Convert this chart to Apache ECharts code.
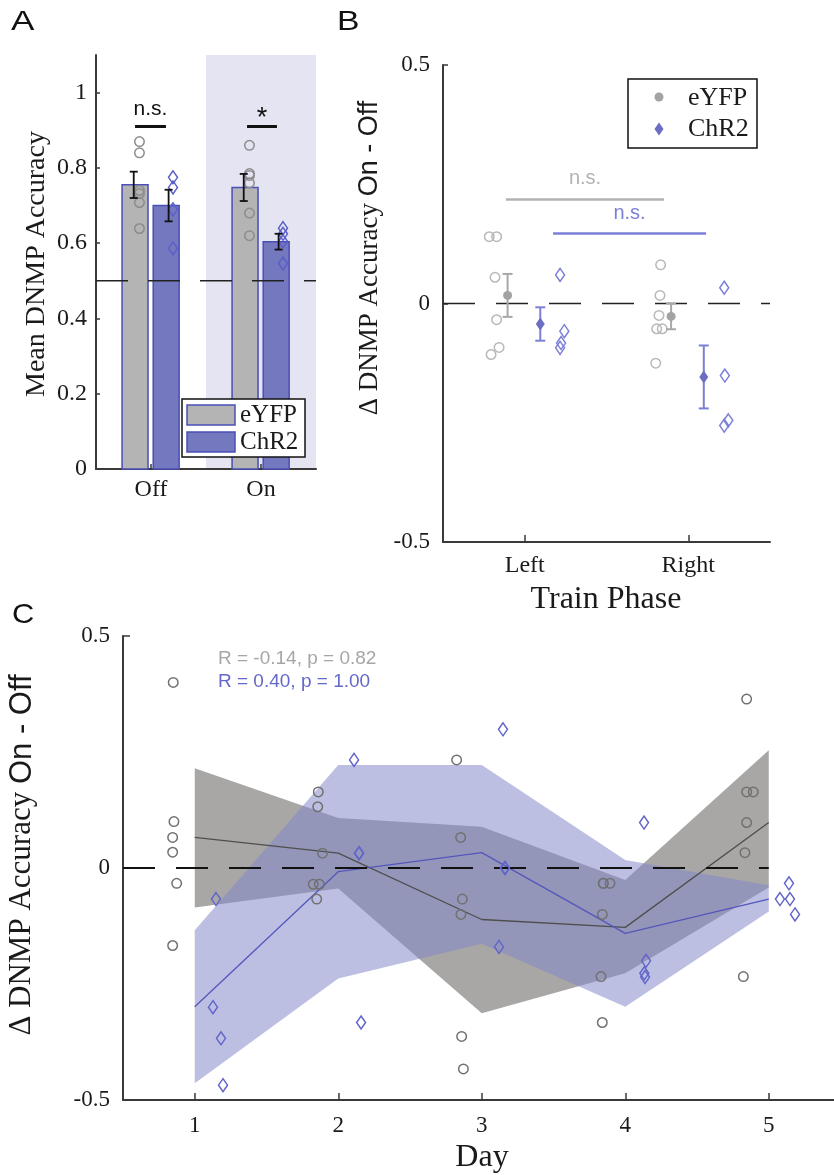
<!DOCTYPE html>
<html><head><meta charset="utf-8">
<script src="https://cdn.jsdelivr.net/npm/echarts@6/dist/echarts.min.js"></script>
<style>html,body{margin:0;padding:0;background:#fff}#c{width:834px;height:1175px}</style>
</head><body><div id="c"></div>
<script>
// ---------------- Panel A data ----------------
const aConditions = ['Off', 'On'];
const aEyfpMean = [0.755, 0.748];
const aEyfpErr = [0.035, 0.036];
const aChr2Mean = [0.700, 0.604];
const aChr2Err = [0.042, 0.021];
const aEyfpPoints = [[0.87, 0.84, 0.74, 0.732, 0.708, 0.639], [0.86, 0.785, 0.78, 0.76, 0.68, 0.62]];
const aChr2Points = [[0.775, 0.748, 0.69, 0.586], [0.64, 0.625, 0.605, 0.546]];
const aChance = 0.5;
const aYTicks = [0, 0.2, 0.4, 0.6, 0.8, 1];
const aSigText = ['n.s.', '*'];
const aSigY = [0.91, 0.91];

// ---------------- Panel B data ----------------
const bPhases = ['Left', 'Right'];
const bEyfpPoints = [[0.14, 0.14, 0.055, -0.034, -0.092, -0.107], [0.081, 0.017, -0.025, -0.053, -0.053, -0.125]];
const bEyfpJitter = [[-0.217, -0.172, -0.182, -0.172, -0.157, -0.206], [-0.169, -0.173, -0.179, -0.193, -0.159, -0.199]];
const bChr2Points = [[0.06, -0.058, -0.083, -0.093], [0.033, -0.151, -0.245, -0.256]];
const bChr2Jitter = [[0.216, 0.242, 0.222, 0.216], [0.22, 0.224, 0.245, 0.22]];
const bEyfpMean = [0.017, -0.027];
const bEyfpErr = [0.045, 0.027];
const bChr2Mean = [-0.043, -0.154];
const bChr2Err = [0.035, 0.066];
const bYTicks = [-0.5, 0, 0.5];
const bSigText = ['n.s.', 'n.s.'];
const bSigSpan = [[0.885, 1.852], [1.173, 2.109]];
const bSigY = [0.218, 0.147];

// ---------------- Panel C data ----------------
const cDays = [1, 2, 3, 4, 5];
const cEyfpPoints = [
  [0.40, 0.10, 0.066, 0.034, -0.033, -0.167],
  [0.164, 0.132, 0.032, -0.035, -0.035, -0.067],
  [0.233, 0.066, -0.067, -0.10, -0.363, -0.433],
  [-0.033, -0.033, -0.033, -0.10, -0.234, -0.333],
  [0.364, 0.164, 0.164, 0.098, 0.033, -0.234]
];
const cEyfpJitter = [
  [-0.15, -0.145, -0.154, -0.154, -0.126, -0.154],
  [-0.139, -0.143, -0.11, -0.174, -0.132, -0.15],
  [-0.175, -0.147, -0.135, -0.145, -0.14, -0.128],
  [-0.153, -0.106, -0.153, -0.16, -0.169, -0.16],
  [-0.154, -0.154, -0.108, -0.154, -0.166, -0.177]
];
const cChr2Points = [
  [-0.067, -0.30, -0.367, -0.468],
  [0.233, 0.032, 0.032, -0.333],
  [0.299, 0.0, 0.0, -0.17],
  [0.098, -0.20, -0.227, -0.235],
  [-0.033, -0.067, -0.067, -0.10]
];
const cChr2Jitter = [
  [0.148, 0.127, 0.183, 0.197],
  [0.11, 0.145, 0.145, 0.159],
  [0.148, 0.162, 0.162, 0.12],
  [0.131, 0.145, 0.133, 0.138],
  [0.141, 0.078, 0.148, 0.183]
];
const cEyfpMean = [0.066, 0.032, -0.111, -0.128, 0.098];
const cEyfpLo = [-0.085, -0.044, -0.313, -0.227, -0.042];
const cEyfpHi = [0.215, 0.108, 0.089, -0.026, 0.254];
const cChr2Mean = [-0.299, -0.008, 0.033, -0.141, -0.067];
const cChr2Lo = [-0.464, -0.238, -0.163, -0.299, -0.094];
const cChr2Hi = [-0.134, 0.222, 0.222, 0.017, -0.037];
const cStats = ['R = -0.14, p = 0.82', 'R = 0.40, p = 1.00'];
const cYTicks = [-0.5, 0, 0.5];

// ---------------- styling constants ----------------
const SERIF = '"Liberation Serif","Times New Roman",serif';
const SANS = '"Liberation Sans",Arial,Helvetica,sans-serif';
const AXC = '#3a3a3a';
const TXT = '#1a1a1a';
const EDGE = '#4a4fb5';
const A_BAR_OFF = [-0.145, 0.138];
const A_ERR_OFF = [-0.157, 0.16];
const A_PT_OFF = [-0.105, 0.2];
const A_BAR_W = 0.236;
const B_MEAN_OFF = [-0.105, 0.095];

const chart = echarts.init(document.getElementById('c'), null, {renderer: 'canvas', width: 834, height: 1175});

function xAxisDef(grid, min, max, vals, fmt, margin, tickLen, fs) {
  return {
    gridIndex: grid, type: 'value', min: min, max: max, interval: 0.5,
    axisLine: {show: true, onZero: false, lineStyle: {color: AXC, width: 2}},
    axisTick: {show: true, inside: true, length: tickLen, customValues: vals, lineStyle: {color: AXC, width: 1.5}},
    axisLabel: {show: true, customValues: vals, formatter: fmt, fontFamily: SERIF, fontSize: fs, color: TXT, margin: margin},
    splitLine: {show: false}
  };
}
function yAxisDef(grid, min, max, vals, margin, tickLen, fs) {
  return {
    gridIndex: grid, type: 'value', min: min, max: max,
    axisLine: {show: true, onZero: false, lineStyle: {color: AXC, width: 2}},
    axisTick: {show: true, inside: true, length: tickLen, customValues: vals, lineStyle: {color: AXC, width: 1.5}},
    axisLabel: {show: true, customValues: vals, fontFamily: SERIF, fontSize: fs, color: TXT, margin: margin},
    splitLine: {show: false}
  };
}

function errBar(color, capPx, lw) {
  return function (params, api) {
    const x = api.value(0), m = api.value(1), e = api.value(2);
    const t = api.coord([x, m + e]), b = api.coord([x, m - e]);
    const h = capPx / 2;
    const st = {stroke: color, lineWidth: lw};
    return {type: 'group', children: [
      {type: 'line', shape: {x1: t[0], y1: t[1], x2: b[0], y2: b[1]}, style: st},
      {type: 'line', shape: {x1: t[0] - h, y1: t[1], x2: t[0] + h, y2: t[1]}, style: st},
      {type: 'line', shape: {x1: b[0] - h, y1: b[1], x2: b[0] + h, y2: b[1]}, style: st}
    ]};
  };
}
function sigRender(texts, colors, fontSize, gap, lw) {
  return function (params, api) {
    const i = params.dataIndex;
    const p1 = api.coord([api.value(0), api.value(2)]);
    const p2 = api.coord([api.value(1), api.value(2)]);
    const c = colors[i];
    return {type: 'group', children: [
      {type: 'line', shape: {x1: p1[0], y1: p1[1], x2: p2[0], y2: p2[1]}, style: {stroke: c, lineWidth: lw}},
      {type: 'text', x: (p1[0] + p2[0]) / 2, y: p1[1] - gap[i],
        style: {text: texts[i], fontFamily: SANS, fontSize: fontSize[i], fill: c, align: 'center', verticalAlign: 'middle'}}
    ]};
  };
}
function bandRender(xs, lo, hi, fill) {
  return function (params, api) {
    if (params.dataIndex !== 0) return null;
    const pts = [];
    for (let i = 0; i < xs.length; i++) pts.push(api.coord([xs[i], hi[i]]));
    for (let i = xs.length - 1; i >= 0; i--) pts.push(api.coord([xs[i], lo[i]]));
    return {type: 'polygon', shape: {points: pts}, style: {fill: fill}};
  };
}

// ---- Panel A series data ----
const aBarData = [];
aConditions.forEach((c, i) => {
  aBarData.push([i + 1 + A_BAR_OFF[0], aEyfpMean[i], 0]);
  aBarData.push([i + 1 + A_BAR_OFF[1], aChr2Mean[i], 1]);
});
const aErrData = [];
aConditions.forEach((c, i) => {
  aErrData.push([i + 1 + A_ERR_OFF[0], aEyfpMean[i], aEyfpErr[i]]);
  aErrData.push([i + 1 + A_ERR_OFF[1], aChr2Mean[i], aChr2Err[i]]);
});
const aEyfpScatter = [], aChr2Scatter = [];
aEyfpPoints.forEach((arr, i) => arr.forEach(v => aEyfpScatter.push([i + 1 + A_PT_OFF[0], v])));
aChr2Points.forEach((arr, i) => arr.forEach(v => aChr2Scatter.push([i + 1 + A_PT_OFF[1], v])));
const aSigData = [[0.855, 1.136, aSigY[0]], [1.873, 2.145, aSigY[1]]];

// ---- Panel B series data ----
const bEyfpScatter = [], bChr2Scatter = [];
bEyfpPoints.forEach((arr, i) => arr.forEach((v, j) => bEyfpScatter.push([i + 1 + bEyfpJitter[i][j], v])));
bChr2Points.forEach((arr, i) => arr.forEach((v, j) => bChr2Scatter.push([i + 1 + bChr2Jitter[i][j], v])));
const bEyfpMeanData = bPhases.map((p, i) => [i + 1 + B_MEAN_OFF[0], bEyfpMean[i], bEyfpErr[i]]);
const bChr2MeanData = bPhases.map((p, i) => [i + 1 + B_MEAN_OFF[1], bChr2Mean[i], bChr2Err[i]]);
const bSigData = bSigSpan.map((s, i) => [s[0], s[1], bSigY[i]]);

// ---- Panel C series data ----
const cEyfpScatter = [], cChr2Scatter = [];
cEyfpPoints.forEach((arr, i) => arr.forEach((v, j) => cEyfpScatter.push([cDays[i] + cEyfpJitter[i][j], v])));
cChr2Points.forEach((arr, i) => arr.forEach((v, j) => cChr2Scatter.push([cDays[i] + cChr2Jitter[i][j], v])));

const option = {
  animation: false,
  backgroundColor: '#ffffff',
  grid: [
    {left: 96, top: 55, width: 220, height: 414, containLabel: false, outerBoundsMode: 'none'},
    {left: 443, top: 65, width: 327, height: 477, containLabel: false, outerBoundsMode: 'none'},
    {left: 123, top: 636, width: 717.5, height: 464, containLabel: false, outerBoundsMode: 'none'}
  ],
  xAxis: [
    xAxisDef(0, 0.5, 2.5, [1, 2], v => aConditions[Math.round(v) - 1], 9, 5, 24),
    xAxisDef(1, 0.5, 2.5, [1, 2], v => bPhases[Math.round(v) - 1], 12, 7, 24),
    xAxisDef(2, 0.5, 5.5, cDays, v => String(v), 14, 7, 23)
  ],
  yAxis: [
    yAxisDef(0, 0, 1.1, aYTicks, 9, 4, 24),
    yAxisDef(1, -0.5, 0.5, bYTicks, 13, 5, 23),
    yAxisDef(2, -0.5, 0.5, cYTicks, 13, 7, 23)
  ],
  series: [
    // ===== Panel A =====
    {type: 'custom', xAxisIndex: 0, yAxisIndex: 0, z: 0, silent: true,
      data: [[1.5, 2.5]], encode: {x: [0, 1]},
      renderItem: function (params, api) {
        const p0 = api.coord([api.value(0), 1.1]);
        const p1 = api.coord([api.value(1), 0]);
        return {type: 'rect', shape: {x: p0[0], y: p0[1], width: p1[0] - p0[0], height: p1[1] - p0[1]}, style: {fill: '#e4e4f3'}};
      }},
    {type: 'custom', name: 'bars', xAxisIndex: 0, yAxisIndex: 0, z: 2, silent: true,
      data: aBarData, encode: {x: 0, y: 1},
      renderItem: function (params, api) {
        const x = api.value(0), v = api.value(1), g = api.value(2);
        const top = api.coord([x, v]), base = api.coord([x, 0]);
        const w = api.size([A_BAR_W, 0])[0];
        return {type: 'rect', shape: {x: top[0] - w / 2, y: top[1], width: w, height: base[1] - top[1]},
          style: {fill: g === 0 ? '#b4b4b4' : '#7478be', stroke: EDGE, lineWidth: 1.5}};
      }},
    {type: 'line', xAxisIndex: 0, yAxisIndex: 0, z: 4, silent: true, symbol: 'none',
      data: [[0.5, aChance], [2.5, aChance]],
      lineStyle: {color: '#222', width: 1.5, type: [32, 20]}},
    {type: 'scatter', xAxisIndex: 0, yAxisIndex: 0, z: 5, silent: true, symbol: 'circle', symbolSize: 9.5,
      data: aEyfpScatter, itemStyle: {color: 'rgba(0,0,0,0)', borderColor: '#8c8c8c', borderWidth: 1.5, opacity: 1}},
    {type: 'scatter', xAxisIndex: 0, yAxisIndex: 0, z: 5, silent: true, symbol: 'diamond', symbolSize: [9, 13],
      data: aChr2Scatter, itemStyle: {color: 'rgba(0,0,0,0)', borderColor: '#5a5ec8', borderWidth: 1.5, opacity: 1}},
    {type: 'custom', xAxisIndex: 0, yAxisIndex: 0, z: 6, silent: true,
      data: aErrData, encode: {x: 0, y: 1}, renderItem: errBar('#111', 8, 1.8)},
    {type: 'custom', xAxisIndex: 0, yAxisIndex: 0, z: 6, silent: true,
      data: aSigData, encode: {x: [0, 1], y: 2},
      renderItem: sigRender(aSigText, ['#111', '#111'], [21, 27], [17, 8], 3)},

    // ===== Panel B =====
    {type: 'line', xAxisIndex: 1, yAxisIndex: 1, z: 2, silent: true, symbol: 'none',
      data: [[0.5, 0], [2.5, 0]],
      lineStyle: {color: '#222', width: 1.5, type: [32, 21]}},
    {type: 'scatter', xAxisIndex: 1, yAxisIndex: 1, z: 4, silent: true, symbol: 'circle', symbolSize: 9.5,
      data: bEyfpScatter, itemStyle: {color: 'rgba(0,0,0,0)', borderColor: '#b8b8b8', borderWidth: 1.5, opacity: 1}},
    {type: 'scatter', xAxisIndex: 1, yAxisIndex: 1, z: 4, silent: true, symbol: 'diamond', symbolSize: [9, 13],
      data: bChr2Scatter, itemStyle: {color: 'rgba(0,0,0,0)', borderColor: '#7b7fd6', borderWidth: 1.5, opacity: 1}},
    {type: 'custom', xAxisIndex: 1, yAxisIndex: 1, z: 5, silent: true,
      data: bEyfpMeanData, encode: {x: 0, y: 1}, renderItem: errBar('#a8a8a8', 10, 2)},
    {type: 'custom', xAxisIndex: 1, yAxisIndex: 1, z: 5, silent: true,
      data: bChr2MeanData, encode: {x: 0, y: 1}, renderItem: errBar('#7b80d4', 10, 2)},
    {type: 'scatter', xAxisIndex: 1, yAxisIndex: 1, z: 6, silent: true, symbol: 'circle', symbolSize: 9,
      data: bEyfpMeanData.map(d => [d[0], d[1]]), itemStyle: {color: '#a3a3a3', opacity: 1}},
    {type: 'scatter', xAxisIndex: 1, yAxisIndex: 1, z: 6, silent: true, symbol: 'diamond', symbolSize: [9, 13],
      data: bChr2MeanData.map(d => [d[0], d[1]]), itemStyle: {color: '#6b6fc4', opacity: 1}},
    {type: 'custom', xAxisIndex: 1, yAxisIndex: 1, z: 6, silent: true,
      data: bSigData, encode: {x: [0, 1], y: 2},
      renderItem: sigRender(bSigText, ['#b2b2b2', '#7b7fd6'], [20, 20], [21, 20], 2.5)},

    // ===== Panel C =====
    {type: 'custom', xAxisIndex: 2, yAxisIndex: 2, z: 1, silent: true,
      data: cDays.map((d, i) => [d, cEyfpLo[i], cEyfpHi[i]]), encode: {x: 0, y: [1, 2]},
      renderItem: bandRender(cDays, cEyfpLo, cEyfpHi, '#a9a7a6')},
    {type: 'custom', xAxisIndex: 2, yAxisIndex: 2, z: 2, silent: true,
      data: cDays.map((d, i) => [d, cChr2Lo[i], cChr2Hi[i]]), encode: {x: 0, y: [1, 2]},
      renderItem: bandRender(cDays, cChr2Lo, cChr2Hi, 'rgba(132,136,202,0.54)')},
    {type: 'line', xAxisIndex: 2, yAxisIndex: 2, z: 3, silent: true, symbol: 'none',
      data: cDays.map((d, i) => [d, cEyfpMean[i]]), lineStyle: {color: '#4e4e4e', width: 1.3}},
    {type: 'line', xAxisIndex: 2, yAxisIndex: 2, z: 3, silent: true, symbol: 'none',
      data: cDays.map((d, i) => [d, cChr2Mean[i]]), lineStyle: {color: '#5357bb', width: 1.3}},
    {type: 'line', xAxisIndex: 2, yAxisIndex: 2, z: 4, silent: true, symbol: 'none',
      data: [[0.5, 0], [5, 0]], lineStyle: {color: '#111', width: 1.8, type: [32, 21]}},
    {type: 'scatter', xAxisIndex: 2, yAxisIndex: 2, z: 5, silent: true, symbol: 'circle', symbolSize: 9.5,
      data: cEyfpScatter, itemStyle: {color: 'rgba(0,0,0,0)', borderColor: '#717171', borderWidth: 1.5, opacity: 1}},
    {type: 'scatter', xAxisIndex: 2, yAxisIndex: 2, z: 5, silent: true, symbol: 'diamond', symbolSize: [9, 13],
      data: cChr2Scatter, itemStyle: {color: 'rgba(0,0,0,0)', borderColor: '#6165c8', borderWidth: 1.5, opacity: 1}}
  ],
  graphic: [
    // panel letters
    {type: 'text', x: 11, y: 23, scaleX: 1.3, z: 100, style: {text: 'A', fontFamily: SANS, fontSize: 27, fill: '#111', align: 'left', verticalAlign: 'middle'}},
    {type: 'text', x: 337, y: 23, scaleX: 1.25, z: 100, style: {text: 'B', fontFamily: SANS, fontSize: 27, fill: '#111', align: 'left', verticalAlign: 'middle'}},
    {type: 'text', x: 12, y: 615, scaleX: 1.1, z: 100, style: {text: 'C', fontFamily: SANS, fontSize: 28, fill: '#111', align: 'left', verticalAlign: 'middle'}},
    // axis titles
    {type: 'text', x: 37, y: 264, rotation: Math.PI / 2, z: 100,
      style: {text: 'Mean DNMP Accuracy', fontFamily: SERIF, fontSize: 28, fill: TXT, align: 'center', verticalAlign: 'middle'}},
    {type: 'text', x: 370, y: 258, rotation: Math.PI / 2, z: 100,
      style: {text: '{s|Δ DNMP Accuracy }{h|On - Off}', align: 'center', verticalAlign: 'middle',
        rich: {s: {fontFamily: SERIF, fontSize: 27, fill: TXT}, h: {fontFamily: SANS, fontSize: 27, fill: TXT}}}},
    {type: 'text', x: 606, y: 600, z: 100,
      style: {text: 'Train Phase', fontFamily: SERIF, fontSize: 32, fill: TXT, align: 'center', verticalAlign: 'middle'}},
    {type: 'text', x: 22, y: 855, rotation: Math.PI / 2, z: 100,
      style: {text: '{s|Δ DNMP Accuracy }{h|On - Off}', align: 'center', verticalAlign: 'middle',
        rich: {s: {fontFamily: SERIF, fontSize: 31, fill: TXT}, h: {fontFamily: SANS, fontSize: 31, fill: TXT}}}},
    {type: 'text', x: 482, y: 1158, z: 100,
      style: {text: 'Day', fontFamily: SERIF, fontSize: 32, fill: TXT, align: 'center', verticalAlign: 'middle'}},
    // panel C stats
    {type: 'text', x: 218, y: 659, z: 100,
      style: {text: cStats[0], fontFamily: SANS, fontSize: 19, fill: '#a6a6a6', align: 'left', verticalAlign: 'middle'}},
    {type: 'text', x: 218, y: 682, z: 100,
      style: {text: cStats[1], fontFamily: SANS, fontSize: 19, fill: '#6468c8', align: 'left', verticalAlign: 'middle'}},
    // legend A
    {type: 'rect', z: 100, shape: {x: 182, y: 399, width: 123, height: 58}, style: {fill: '#fff', stroke: '#111', lineWidth: 1.5}},
    {type: 'rect', z: 101, shape: {x: 187, y: 405, width: 48, height: 20}, style: {fill: '#b4b4b4', stroke: EDGE, lineWidth: 1.5}},
    {type: 'rect', z: 101, shape: {x: 187, y: 432, width: 48, height: 20}, style: {fill: '#7478be', stroke: EDGE, lineWidth: 1.5}},
    {type: 'text', x: 240, y: 415, z: 101, style: {text: 'eYFP', fontFamily: SERIF, fontSize: 25, fill: TXT, align: 'left', verticalAlign: 'middle'}},
    {type: 'text', x: 240, y: 442, z: 101, style: {text: 'ChR2', fontFamily: SERIF, fontSize: 25, fill: TXT, align: 'left', verticalAlign: 'middle'}},
    // legend B
    {type: 'rect', z: 100, shape: {x: 628, y: 79, width: 129, height: 69}, style: {fill: '#fff', stroke: '#111', lineWidth: 1.5}},
    {type: 'circle', z: 101, shape: {cx: 659, cy: 97, r: 4.5}, style: {fill: '#a3a3a3'}},
    {type: 'polygon', z: 101, shape: {points: [[659, 122.5], [663.5, 129], [659, 135.5], [654.5, 129]]}, style: {fill: '#6b6fc4'}},
    {type: 'text', x: 688, y: 98, z: 101, style: {text: 'eYFP', fontFamily: SERIF, fontSize: 26, fill: TXT, align: 'left', verticalAlign: 'middle'}},
    {type: 'text', x: 688, y: 129, z: 101, style: {text: 'ChR2', fontFamily: SERIF, fontSize: 26, fill: TXT, align: 'left', verticalAlign: 'middle'}}
  ]
};
chart.setOption(option);
</script>
</body></html>
